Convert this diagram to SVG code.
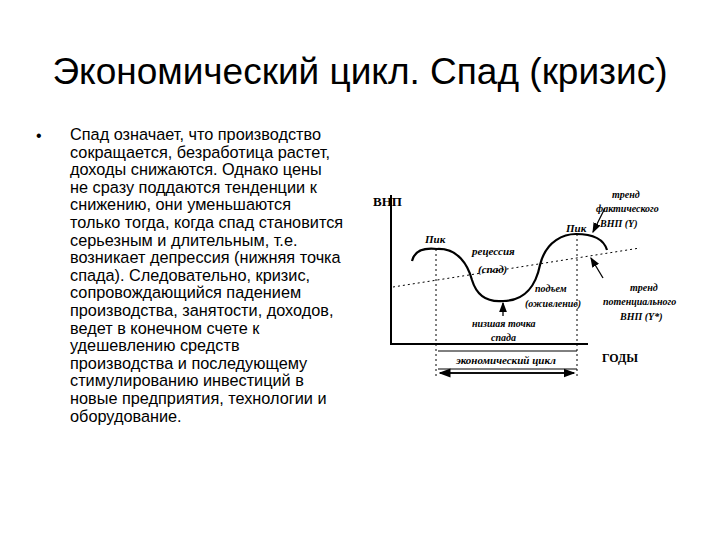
<svg xmlns="http://www.w3.org/2000/svg" width="720" height="540" viewBox="0 0 720 540">
<style>
.t{font-family:"Liberation Sans","Open Sans",sans-serif;fill:#000}
.b{font-family:"Liberation Sans",sans-serif;font-size:16.3px}
.i{font-family:"Liberation Serif",serif;font-style:italic;font-size:11px;font-weight:bold}
.ln{stroke:#000;fill:none}
</style>
<defs><marker id="a" markerWidth="8" markerHeight="8" refX="7" refY="4" orient="auto"><path d="M0,1 L8,4 L0,7 Z"/></marker></defs>
<rect width="720" height="540" fill="#fff"/>
<text class="t" x="360" y="84" font-size="37" text-anchor="middle" fill="#222">Экономический цикл. Спад (кризис)</text>
<text class="t" x="36" y="141" font-size="16">•</text>
<g class="b">
<text x="70" y="140">Спад означает, что производство</text>
<text x="70" y="157.6">сокращается, безработица растет,</text>
<text x="70" y="175.2">доходы снижаются. Однако цены</text>
<text x="70" y="192.8">не сразу поддаются тенденции к</text>
<text x="70" y="210.4">снижению, они уменьшаются</text>
<text x="70" y="228">только тогда, когда спад становится</text>
<text x="70" y="245.6">серьезным и длительным, т.е.</text>
<text x="70" y="263.2">возникает депрессия (нижняя точка</text>
<text x="70" y="280.8">спада). Следовательно, кризис,</text>
<text x="70" y="298.4">сопровождающийся падением</text>
<text x="70" y="316">производства, занятости, доходов,</text>
<text x="70" y="333.6">ведет в конечном счете к</text>
<text x="70" y="351.2">удешевлению средств</text>
<text x="70" y="368.8">производства и последующему</text>
<text x="70" y="386.4">стимулированию инвестиций в</text>
<text x="70" y="404">новые предприятия, технологии и</text>
<text x="70" y="421.6">оборудование.</text>
</g>
<g id="axes">
<path class="ln" stroke-width="2" d="M391,195 V344 H588"/>
<text x="373" y="206" font-family="Liberation Serif,serif" font-weight="bold" font-size="13">ВНП</text>
<text x="602" y="362" font-family="Liberation Serif,serif" font-weight="bold" font-size="12">ГОДЫ</text>
</g>
<g id="curve">
<path class="ln" stroke-width="2.2" d="M412,261 C415,248 428,248 437,249 C458,248 468,265 472,280 C478,300 492,302 503,301 C525,301 536,285 540,265 C546,240 565,234 576,234 C594,234 604,240 607,250"/>
<path class="ln" stroke-dasharray="2,3" d="M393,287 L640,248"/>
<path class="ln" stroke-dasharray="2,3" d="M436,249 V377 M577,234 V377"/>
</g>
<g id="cycle">
<path class="ln" d="M438,351 H577 M438,369 H577"/>
<text class="i" x="506" y="364" text-anchor="middle">экономический цикл</text>
<path class="ln" stroke-width="1.5" d="M440,373 H574" marker-end="url(#a)"/>
<path class="ln" stroke-width="1.5" d="M574,373 H440" marker-end="url(#a)"/>
</g>
<g id="labels" class="i">
<text x="425" y="243">Пик</text>
<text x="472" y="255">рецессия</text>
<text x="478" y="273">(спад)</text>
<text x="566" y="232">Пик</text>
<text x="612" y="198" font-size="10">тренд</text>
<text x="596" y="212" font-size="10">фактического</text>
<text x="600" y="227" font-size="10">ВНП (Y)</text>
<text x="630" y="291" font-size="10">тренд</text>
<text x="603" y="305" font-size="10">потенциального</text>
<text x="620" y="320" font-size="10">ВНП (Y*)</text>
<text x="535" y="292" font-size="10">подъем</text>
<text x="525" y="307" font-size="10">(оживление)</text>
<text x="472" y="327" font-size="10">низшая точка</text>
<text x="491" y="341" font-size="10">спада</text>
</g>
<g id="connectors">
<path class="ln" stroke-width="1.3" d="M605,208 L593,232" marker-end="url(#a)"/>
<path class="ln" stroke-width="1.3" d="M603,278 L591,258" marker-end="url(#a)"/>
<path class="ln" stroke-width="1.3" d="M503,316 L503,303" marker-end="url(#a)"/>
</g>
</svg>
